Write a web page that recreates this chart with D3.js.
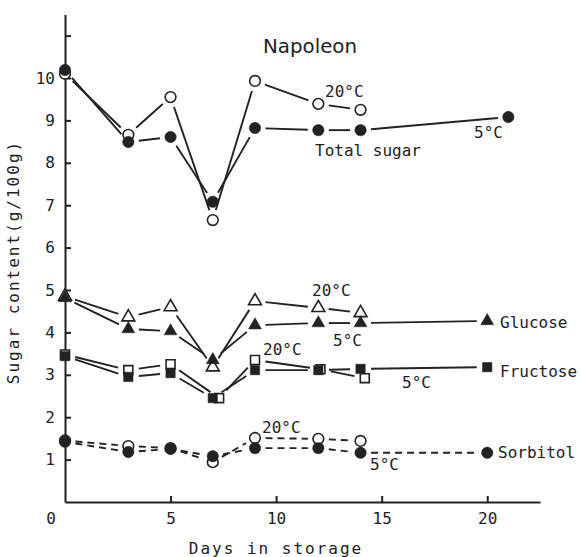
<!DOCTYPE html>
<html>
<head>
<meta charset="utf-8">
<script src="https://cdn.jsdelivr.net/npm/d3@7/dist/d3.min.js"></script>
<style>
  body { margin: 0; background: #fff; }
  text { font-family: "DejaVu Sans Mono", monospace; fill: #222; }
</style>
</head>
<body>
<div id="chart"></div>
<script>
// sampling days
var days5 = [0, 3, 5, 7, 9, 12, 14, 20];
var days20 = [0, 3, 5, 7, 9, 12, 14];
var totalDays5 = [0, 3, 5, 7, 9, 12, 14, 21];
var fructoseDays20 = [0, 3, 5, 7.3, 9, 12.1, 14.2];

// g/100g
var totalSugar5 = [10.19, 8.49, 8.61, 7.08, 8.82, 8.77, 8.77, 9.08];
var totalSugar20 = [10.1, 8.66, 9.55, 6.65, 9.93, 9.39, 9.25];
var glucose5 = [4.81, 4.08, 4.03, 3.35, 4.17, 4.22, 4.22, 4.27];
var glucose20 = [4.85, 4.36, 4.6, 3.18, 4.74, 4.58, 4.46];
var fructose5 = [3.44, 2.95, 3.04, 2.45, 3.11, 3.11, 3.14, 3.18];
var fructose20 = [3.48, 3.11, 3.25, 2.45, 3.35, 3.13, 2.92];
var sorbitol5 = [1.42, 1.18, 1.25, 1.08, 1.27, 1.27, 1.16, 1.16];
var sorbitol20 = [1.45, 1.32, 1.27, 0.94, 1.51, 1.49, 1.44];

var xTicks = [5, 10, 15, 20];
var yTicks = [1, 2, 3, 4, 5, 6, 7, 8, 9, 10, 11];

var width = 580,
    height = 557,
    ink = '#222';

var x = d3.scaleLinear().domain([0, 22.5]).range([65, 540]);
var y = d3.scaleLinear().domain([0, 11.5]).range([502, 14.4]);

var svg = d3.select('#chart')
  .append('svg')
    .attr('width', width)
    .attr('height', height);

// axes, ticks point inwards
var yAxis = svg.append('g')
    .attr('transform', 'translate(' + x(0) + ',0)')
    .call(d3.axisLeft(y)
      .tickValues(yTicks)
      .tickSizeInner(-6)
      .tickSizeOuter(0)
      .tickPadding(10)
      .tickFormat(function (d) { return d > 10 ? '' : d; }));

var xAxis = svg.append('g')
    .attr('transform', 'translate(0,' + y(0) + ')')
    .call(d3.axisBottom(x)
      .tickValues(xTicks)
      .tickSizeInner(-6)
      .tickSizeOuter(0)
      .tickPadding(11));

svg.selectAll('.domain, .tick line')
    .attr('stroke', ink)
    .attr('stroke-width', 2);
svg.selectAll('.tick text')
    .style('font-family', '"DejaVu Sans Mono", monospace')
    .style('font-size', '16px')
    .attr('fill', ink);

svg.append('text')
    .attr('x', x(0) - 14)
    .attr('y', y(0) + 11)
    .attr('dy', '0.71em')
    .attr('text-anchor', 'middle')
    .style('font-size', '16px')
    .text('0');

svg.append('text')
    .attr('x', 276)
    .attr('y', 554)
    .attr('text-anchor', 'middle')
    .style('font-size', '16px')
    .style('letter-spacing', '2px')
    .text('Days in storage');

svg.append('text')
    .attr('transform', 'translate(19,262) rotate(-90)')
    .attr('text-anchor', 'middle')
    .style('font-size', '16px')
    .style('letter-spacing', '2px')
    .text('Sugar content(g/100g)');

// segments stop short of the markers, like the hand drawn original
function drawSegments(days, vals, dashed) {
  var pts = days.map(function (d, i) { return [x(d), y(vals[i])]; });
  var gap = 10.5;
  d3.pairs(pts).forEach(function (p) {
    var dx = p[1][0] - p[0][0],
        dy = p[1][1] - p[0][1],
        len = Math.sqrt(dx * dx + dy * dy);
    if (len < 2 * gap + 2) return;
    var ux = dx / len, uy = dy / len;
    svg.append('line')
      .attr('x1', p[0][0] + ux * gap)
      .attr('y1', p[0][1] + uy * gap)
      .attr('x2', p[1][0] - ux * gap)
      .attr('y2', p[1][1] - uy * gap)
      .attr('stroke', ink)
      .attr('stroke-width', 1.9)
      .attr('stroke-dasharray', dashed ? '7,5' : null);
  });
}

function drawMarkers(days, vals, shape, filled) {
  var sym = {
    circle: [d3.symbolCircle, filled ? 102 : 90],
    triangle: [d3.symbolTriangle, 72],
    square: [d3.symbolSquare, filled ? 88 : 80]
  }[shape];
  svg.append('g')
    .selectAll('path')
    .data(days.map(function (d, i) { return {day: d, v: vals[i]}; }))
    .enter()
    .append('path')
      .attr('transform', function (d) { return 'translate(' + x(d.day) + ',' + y(d.v) + ')'; })
      .attr('d', d3.symbol().type(sym[0]).size(sym[1]))
      .attr('fill', filled ? ink : '#fff')
      .attr('stroke', ink)
      .attr('stroke-width', filled ? 0.5 : 1.6);
}

var series = [
  {days: days20, vals: totalSugar20, shape: 'circle', filled: false},
  {days: totalDays5, vals: totalSugar5, shape: 'circle', filled: true},
  {days: days20, vals: glucose20, shape: 'triangle', filled: false},
  {days: days5, vals: glucose5, shape: 'triangle', filled: true},
  {days: fructoseDays20, vals: fructose20, shape: 'square', filled: false},
  {days: days5, vals: fructose5, shape: 'square', filled: true},
  {days: days20, vals: sorbitol20, shape: 'circle', filled: false, dashed: true},
  {days: days5, vals: sorbitol5, shape: 'circle', filled: true, dashed: true}
];

series.forEach(function (s) { drawSegments(s.days, s.vals, s.dashed); });
series.forEach(function (s) { drawMarkers(s.days, s.vals, s.shape, s.filled); });

// annotations
var notes = [
  ['20°C', 325, 97], ['5°C', 474, 138], ['Total sugar', 315, 156],
  ['20°C', 312, 296], ['5°C', 333, 346], ['Glucose', 500, 328],
  ['20°C', 263, 355], ['5°C', 402, 388], ['Fructose', 500, 377],
  ['20°C', 262, 433], ['5°C', 370, 470], ['Sorbitol', 498, 458]
];
svg.selectAll('text.note')
  .data(notes)
  .enter()
  .append('text')
    .classed('note', true)
    .attr('x', function (d) { return d[1]; })
    .attr('y', function (d) { return d[2]; })
    .style('font-size', '16px')
    .text(function (d) { return d[0]; });

svg.append('text')
    .attr('x', 263)
    .attr('y', 53)
    .attr('textLength', 94)
    .attr('lengthAdjust', 'spacingAndGlyphs')
    .style('font-family', '"DejaVu Sans", sans-serif')
    .style('font-size', '20px')
    .text('Napoleon');
</script>
</body>
</html>
